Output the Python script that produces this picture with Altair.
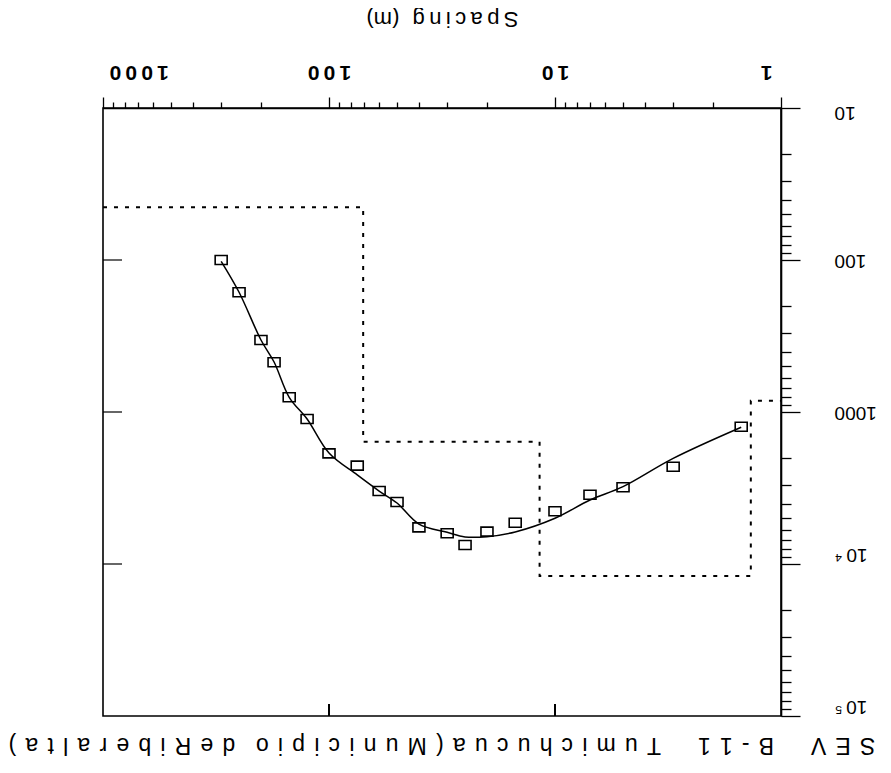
import altair as alt
import pandas as pd

# ---------------- data ----------------
spacing = [300, 250, 200, 175, 150, 125, 100, 75, 60, 50, 40, 30, 25, 20, 15, 10, 7, 5, 3, 1.5]
rho_obs = [100, 163, 336, 471, 800, 1112, 1871, 2254, 3311, 3908, 5740, 6283, 7500, 6120, 5350, 4500, 3500, 3125, 2290, 1250]
rho_fit = [102, 163, 336, 469, 800, 1112, 1862, 2594, 3311, 3971, 5458, 6186, 6637, 6607, 6152, 5000, 3793, 3097, 2018, 1259]

model_bounds = [1000, 70.6, 11.7, 1.36, 1]
model_rho = [45, 1567, 12000, 843]

x_major = [1, 10, 100, 1000]
x_major_labels = ["1", "10", "100", "1000"]
y_major = [10, 100, 1000, 10000, 100000]
y_major_labels = ["10", "100", "1000", "10\u2009⁴", "10\u2009⁵"]

left_frame_ticks = [100, 1000, 10000]
bottom_frame_ticks = [10, 100]

title_words = ["SEV", "B-11", "Tumichucua", "(Municipio", "de", "Riberalta)"]

# ---------------- tables ----------------
obs = pd.DataFrame({"s": spacing, "r": rho_obs})
fit = pd.DataFrame({"s": spacing, "r": rho_fit})
mx, my = [], []
for i, r in enumerate(model_rho):
    mx += [model_bounds[i], model_bounds[i + 1]]
    my += [r, r]
model = pd.DataFrame({"s": mx, "r": my, "i": list(range(len(mx)))})
lt = pd.DataFrame({"r": left_frame_ticks})
bt = pd.DataFrame({"s": bottom_frame_ticks})

x_ticks = [m * d for d in [1, 10, 100] for m in range(1, 10)] + [1000]
y_ticks = [m * d for d in [10, 100, 1000, 10000] for m in range(1, 10)] + [100000]

TS = "\u2009"  # thin space


def label_expr(vals, labels, sep):
    expr = "''"
    for v, l in reversed(list(zip(vals, labels))):
        txt = sep.join(l) if sep else l
        expr = f"datum.value == {v} ? '{txt}' : ({expr})"
    return expr


def is_major(vals):
    return " || ".join(f"datum.value == {v}" for v in vals)


G = TS + TS
title_text = (G + TS + "\u2002\u2002").join([G.join(w) for w in title_words[:3]])
title_text = (title_text + G + G.join(title_words[3]) + G + "\u2002"
              + G.join(title_words[4]) + G + G.join(title_words[5]))

FONT = "Liberation Sans"

xscale = alt.Scale(type="log", domain=[1, 1000], reverse=True, nice=False)
yscale = alt.Scale(type="log", domain=[10, 100000], reverse=True, nice=False)

x_axis = alt.Axis(
    orient="top",
    values=x_ticks,
    title=TS.join("Spacing") + TS * 3 + "(m)",
    titleAngle=180,
    titleBaseline="middle",
    titleY=-90,
    titleFont=FONT,
    titleFontSize=22,
    titleFontWeight="normal",
    titleColor="black",
    labelExpr=label_expr(x_major, x_major_labels, TS),
    labelAngle=180,
    labelBaseline="middle",
    labelAlign={"condition": [{"test": "datum.value == 1000", "value": "right"},
                              {"test": "datum.value == 1", "value": "left"}],
                "value": "center"},
    labelOffset={"condition": [{"test": "datum.value == 1000", "value": 6},
                               {"test": "datum.value == 1", "value": -9}],
                 "value": 0},
    labelFlush=False,
    labelOverlap=False,
    labelBound=False,
    labelPadding=26,
    labelFont=FONT,
    labelFontSize=21,
    labelFontWeight="bold",
    labelColor="black",
    tickSize={"condition": {"test": is_major(x_major), "value": 11}, "value": 6},
    tickColor="black",
    tickWidth=1.3,
    domainColor="black",
    domainWidth=1.6,
    grid=False,
)

y_axis = alt.Axis(
    orient="right",
    values=y_ticks,
    title=None,
    labelExpr=label_expr(y_major, y_major_labels, None),
    labelAngle=180,
    labelAlign="right",
    labelBaseline="middle",
    labelOffset={"condition": [{"test": "datum.value == 10", "value": 4},
                               {"test": "datum.value >= 10000", "value": -10}],
                 "value": 0},
    labelFlush=False,
    labelOverlap=False,
    labelBound=False,
    labelPadding=34,
    labelFont=FONT,
    labelFontSize=19,
    labelFontWeight="normal",
    labelColor="black",
    tickSize={"condition": {"test": is_major(y_major), "value": 19}, "value": 10},
    tickColor="black",
    tickWidth=1.3,
    domainColor="black",
    domainWidth=1.6,
    grid=False,
)

X = alt.X("s:Q", scale=xscale, axis=x_axis)
Y = alt.Y("r:Q", scale=yscale, axis=y_axis)

rect_shape = "M-1,-0.75L1,-0.75L1,0.75L-1,0.75Z"

fit_line = alt.Chart(fit).mark_line(
    color="black", strokeWidth=1.5, interpolate="catmull-rom"
).encode(x=X, y=Y)

points = alt.Chart(obs).mark_point(
    shape=rect_shape, size=144, filled=False, color="black", strokeWidth=1.6, opacity=1
).encode(x=X, y=Y)

model_line = alt.Chart(model).mark_line(
    color="black", strokeWidth=2, strokeDash=[4, 7]
).encode(x=X, y=Y, order=alt.Order("i:Q"))

left_ticks = alt.Chart(lt).mark_rule(color="black", strokeWidth=1.2).encode(
    y=Y, x=alt.value(0), x2=alt.value(19)
)

bottom_ticks = alt.Chart(bt).mark_rule(color="black", strokeWidth=2).encode(
    x=X, y=alt.value(608), y2=alt.value(596)
)

chart = alt.layer(fit_line, points, model_line, left_ticks, bottom_ticks).properties(
    width=678,
    height=608,
    title=alt.TitleParams(
        text=title_text,
        orient="bottom",
        angle=180,
        baseline="middle",
        anchor="middle",
        font=FONT,
        fontSize=23,
        fontWeight="normal",
        color="black",
        offset=28,
    ),
    autosize=alt.AutoSizeParams(type="none"),
    padding={"left": 95, "top": 100, "right": 102, "bottom": 48},
    background="white",
).configure_view(stroke="black", strokeWidth=1.6)

chart.save("out.html", embed_options={"renderer": "svg", "actions": False})
